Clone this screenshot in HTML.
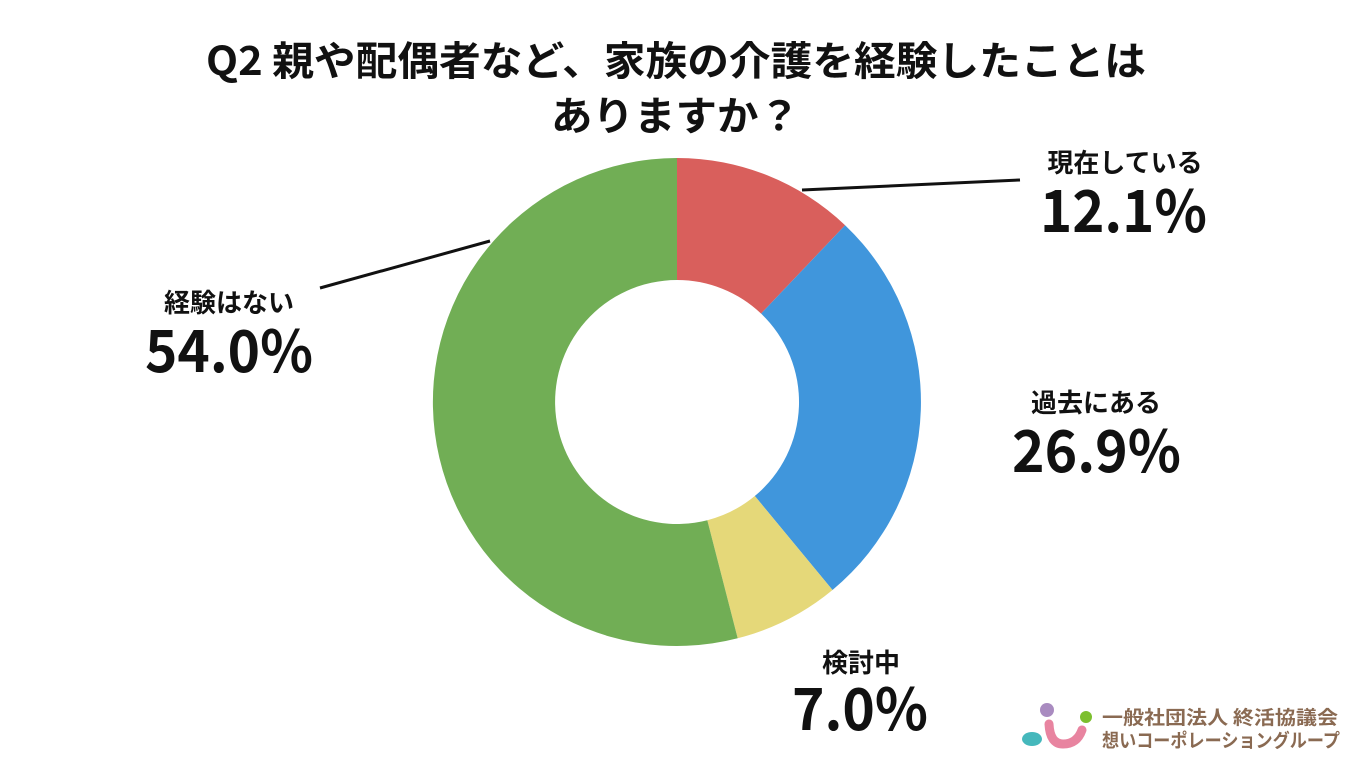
<!DOCTYPE html>
<html><head><meta charset="utf-8"><style>
body{margin:0;width:1366px;height:768px;background:#fff;overflow:hidden}
svg text{font-family:"Noto Sans CJK JP","Liberation Sans",sans-serif;font-weight:bold;fill:#111}
</style></head><body>
<svg width="1366" height="768" viewBox="0 0 1366 768">
<text x="206" y="75" font-size="40" textLength="940" lengthAdjust="spacingAndGlyphs">Q2 親や配偶者など、家族の介護を経験したことは</text>
<text x="551" y="130" font-size="40" textLength="249" lengthAdjust="spacingAndGlyphs">ありますか？</text>
<path d="M677 158 A244 244 0 0 1 845.1 225.2 L761.1 313.6 A122 122 0 0 0 677 280 Z" fill="#d95f5c"/>
<path d="M845.1 225.2 A244 244 0 0 1 832.5 590 L754.8 496 A122 122 0 0 0 761.1 313.6 Z" fill="#4096dc"/>
<path d="M832.5 590 A244 244 0 0 1 737.7 638.3 L707.3 520.2 A122 122 0 0 0 754.8 496 Z" fill="#e5d879"/>
<path d="M737.7 638.3 A244 244 0 1 1 677 158 L677 280 A122 122 0 1 0 707.3 520.2 Z" fill="#71ae55"/>
<line x1="802" y1="190" x2="1020" y2="180" stroke="#111" stroke-width="3"/>
<line x1="490" y1="241" x2="320" y2="288" stroke="#111" stroke-width="3"/>
<text x="1125" y="172" font-size="26" text-anchor="middle">現在している</text>
<text x="1040" y="232" font-size="58" textLength="167" lengthAdjust="spacingAndGlyphs">12.1%</text>
<text x="1096" y="412" font-size="26" text-anchor="middle">過去にある</text>
<text x="1012" y="472" font-size="58" textLength="169" lengthAdjust="spacingAndGlyphs">26.9%</text>
<text x="861" y="672" font-size="26" text-anchor="middle">検討中</text>
<text x="792" y="730" font-size="58" textLength="136" lengthAdjust="spacingAndGlyphs">7.0%</text>
<text x="229" y="312" font-size="26" text-anchor="middle">経験はない</text>
<text x="145" y="372" font-size="58" textLength="168" lengthAdjust="spacingAndGlyphs">54.0%</text>
<circle cx="1047" cy="710" r="7" fill="#a98bc0"/>
<circle cx="1086" cy="717" r="6" fill="#7cbf2e"/>
<ellipse cx="1032" cy="739" rx="10" ry="7" fill="#45b8bc"/>
<path d="M1049 724 Q1050 744 1063 744 Q1077 744 1082 730" stroke="#e884a0" stroke-width="9" fill="none" stroke-linecap="round"/>
<text x="1102" y="724" font-size="19" textLength="236" lengthAdjust="spacingAndGlyphs" style="fill:#8a6a52">一般社団法人 終活協議会</text>
<text x="1102" y="747" font-size="19" textLength="238" lengthAdjust="spacingAndGlyphs" style="fill:#8a6a52">想いコーポレーショングループ</text>
</svg>
</body></html>
